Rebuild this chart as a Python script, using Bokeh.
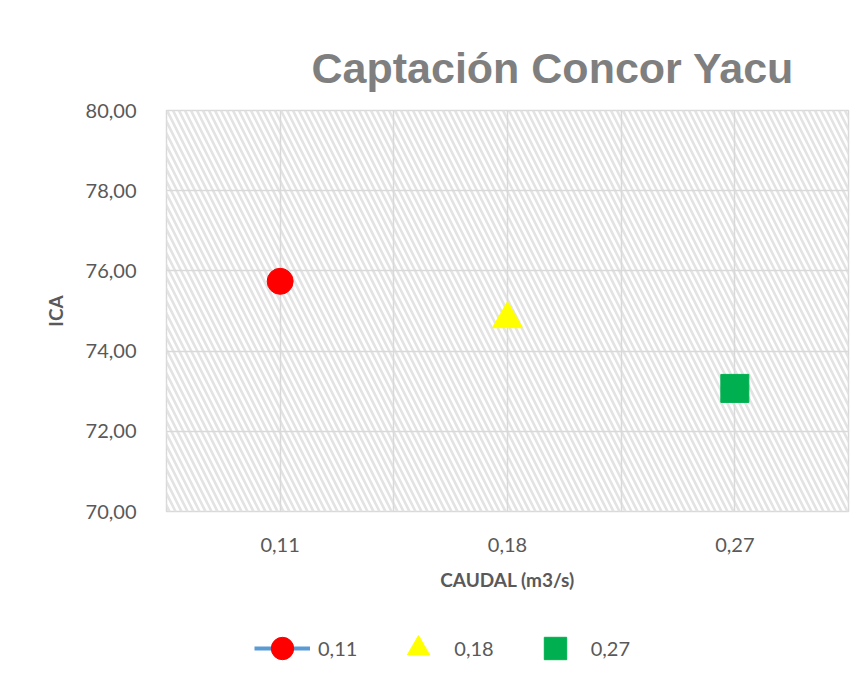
from bokeh.plotting import figure
from bokeh.layouts import column
from bokeh.models import (FixedTicker, Legend, LegendItem, BoxAnnotation, Range1d, Title)
from bokeh.embed import file_html
from bokeh.resources import INLINE

# ---- data ----
categories = ["0,11", "0,18", "0,27"]
ica_values = [75.74, 74.80, 73.07]
series_colors = ["#FF0000", "#FFFF00", "#00B050"]
series_markers = ["circle", "triangle", "square"]
y_ticks = [70, 72, 74, 76, 78, 80]
y_tick_labels = ["70,00", "72,00", "74,00", "76,00", "78,00", "80,00"]

x_pos = [i + 0.5 for i in range(len(categories))]
grid_x = [i * 0.5 for i in range(1, 2 * len(categories))]

FONT = "Lato"
GREY = "#595959"
SIZES = [26, 30, 28]

p = figure(width=856, height=600, output_backend="svg", toolbar_location=None,
           x_range=Range1d(0, len(categories)), y_range=Range1d(70, 80),
           min_border_left=166, min_border_right=8, min_border_top=110,
           min_border_bottom=89)

p.title = Title(text="Captación Concor Yacu", text_font="Liberation Sans",
                text_font_size="43px", text_font_style="bold", text_color="#7F7F7F",
                align="left", offset=145, standoff=38)

p.outline_line_color = "#D9D9D9"
p.outline_line_width = 1.5

# hatched plot area
p.add_layout(BoxAnnotation(fill_alpha=0, line_alpha=0, hatch_pattern="\\",
                           hatch_color="#E3E3E3", hatch_weight=2.6, hatch_scale=12,
                           level="image"))

# grids
p.xgrid.ticker = FixedTicker(ticks=grid_x)
p.ygrid.ticker = FixedTicker(ticks=y_ticks)
for g in (p.xgrid, p.ygrid):
    g.grid_line_color = "#D9D9D9"
    g.grid_line_width = 1.5

# axes
p.xaxis.ticker = FixedTicker(ticks=x_pos)
p.xaxis.major_label_overrides = {x: c for x, c in zip(x_pos, categories)}
p.yaxis.ticker = FixedTicker(ticks=y_ticks)
p.yaxis.major_label_overrides = {t: l for t, l in zip(y_ticks, y_tick_labels)}
for ax in (p.xaxis, p.yaxis):
    ax.axis_line_color = None
    ax.major_tick_line_color = None
    ax.minor_tick_line_color = None
    ax.major_label_text_font = FONT
    ax.major_label_text_font_size = "20px"
    ax.major_label_text_color = GREY
    ax.axis_label_text_font = FONT
    ax.axis_label_text_font_size = "19px"
    ax.axis_label_text_font_style = "bold"
    ax.axis_label_text_color = GREY
p.xaxis.axis_label = "CAUDAL (m3/s)"
p.yaxis.axis_label = "ICA"
p.xaxis.major_label_standoff = 20
p.xaxis.axis_label_standoff = 13
p.yaxis.major_label_standoff = 24
p.yaxis.axis_label_standoff = 16


def draw_series(fig):
    items = []
    for i, (cat, val, col, mk, sz) in enumerate(zip(categories, ica_values, series_colors,
                                                    series_markers, SIZES)):
        rs = []
        if i == 0:
            rs.append(fig.line(x=[x_pos[i]], y=[val], line_color="#5B9BD5", line_width=4))
        rs.append(fig.scatter(x=[x_pos[i]], y=[val], marker=mk, size=sz,
                              fill_color=col, line_color=col))
        items.append(LegendItem(label=cat, renderers=rs))
    return items


draw_series(p)

# legend strip (same series; its ranges keep the points out of view)
pl = figure(width=856, height=82, output_backend="svg", toolbar_location=None,
            x_range=Range1d(100, 101), y_range=Range1d(0, 1),
            min_border_left=0, min_border_right=0, min_border_top=0,
            min_border_bottom=0, outline_line_color=None)
pl.axis.visible = False
pl.grid.visible = False
leg_items = draw_series(pl)
legend = Legend(items=leg_items, orientation="horizontal", location=(88, 6),
                glyph_width=56, glyph_height=56, label_standoff=8, spacing=33,
                padding=0, margin=0, border_line_color=None,
                background_fill_alpha=0, label_text_font=FONT,
                label_text_font_size="20px", label_text_color=GREY)
pl.add_layout(legend, "center")

layout = column(p, pl, spacing=0)
open("out.html", "w").write(file_html(layout, INLINE))
